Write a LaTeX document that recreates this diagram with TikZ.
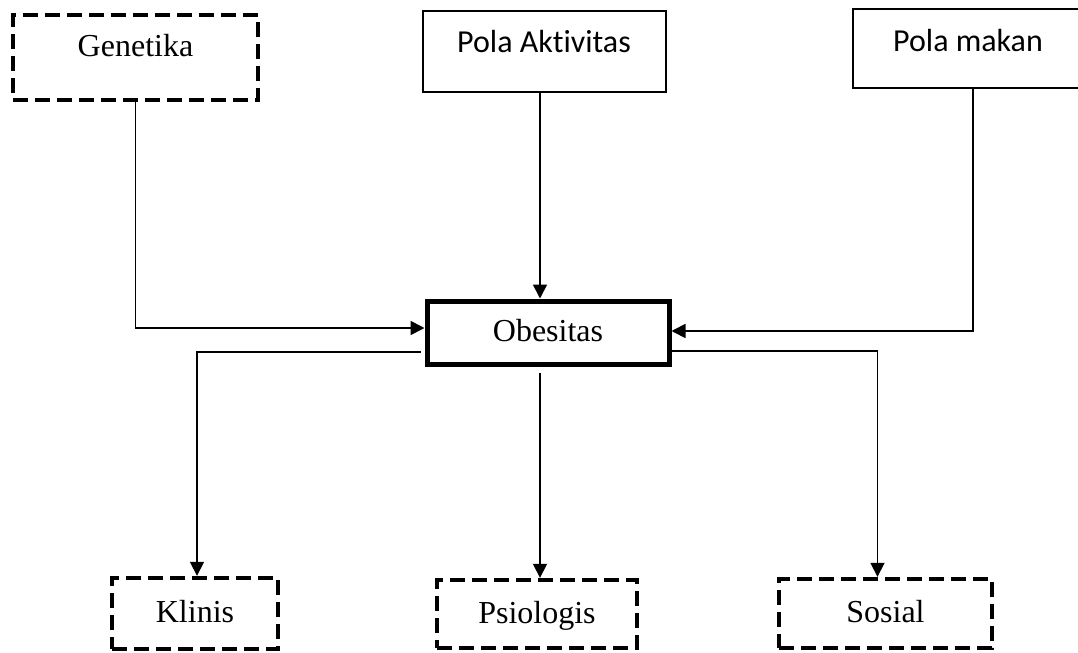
\documentclass[tikz,border=0pt]{standalone}
\usepackage{fontspec}
\setmainfont{Liberation Serif}
\newfontfamily\calfont[Ligatures=NoCommon]{Carlito}
\usetikzlibrary{arrows.meta,positioning,calc}

\begin{document}
\begin{tikzpicture}[
  x=0.5pt,y=-0.5pt,
  every node/.style={inner sep=0pt,text height=12pt,text depth=3pt,font=\fontsize{16}{19}\selectfont},
  dbox/.style={draw,line width=2.2pt,dash pattern=on 7.5pt off 3.5pt},
  sbox/.style={draw,line width=0.75pt},
  obsbox/.style={draw,line width=2.5pt},
  sanstxt/.style={font=\calfont\fontsize{16}{19}\selectfont},
  arr/.style={-{Triangle[length=7pt,width=7pt]},line width=0.85pt}
]
  \useasboundingbox (0,0) rectangle (1078,653);

  % Causes
  \node[dbox,minimum width=122.5pt,minimum height=42.5pt] (gen) at (135.5,57.5) {};
  \node (gentxt) at (135.5,47) {Genetika};
  \node[sbox,minimum width=121.5pt,minimum height=40.5pt] (akt) at (544.5,51.5) {};
  \node[sanstxt] (akttxt) at (544,44) {Pola Aktivitas};
  \node[sbox,minimum width=115pt,minimum height=39.5pt] (mkn) at (968,48.5) {};
  \node[sanstxt] (mkntxt) at (968,43) {Pola makan};

  % Central node
  \node[obsbox,minimum width=121pt,minimum height=31.5pt] (obs) at (548,332.5) {Obesitas};

  % Effects
  \node[dbox,minimum width=83pt,minimum height=35.5pt] (kli) at (195,613.5) {Klinis};
  \node[dbox,minimum width=100pt,minimum height=34pt] (psi) at (537,614) {Psiologis};
  \node[dbox,minimum width=106.5pt,minimum height=34.5pt] (sos) at (885.5,613.5) {Sosial};

  % Arrows into Obesitas
  \draw[arr] (gen.south) |- ([yshift=2.25pt]obs.west);
  \draw[arr] ([xshift=-2.25pt]akt.south) -- ([xshift=-2.25pt]akt.south |- obs.north);
  \draw[arr] ([xshift=2.5pt]mkn.south) |- ([yshift=0.75pt]obs.east);

  % Arrows out of Obesitas
  \draw[arr] ([xshift=-2pt,yshift=-9.75pt]obs.west) -| ([xshift=1pt]kli.north);
  \draw[arr] ([xshift=-4pt,yshift=-3pt]obs.south) -- ([xshift=-4pt]obs.south |- psi.north);
  \draw[arr] ([yshift=-9.25pt]obs.east) -| ([xshift=-4pt]sos.north);
\end{tikzpicture}
\end{document}
